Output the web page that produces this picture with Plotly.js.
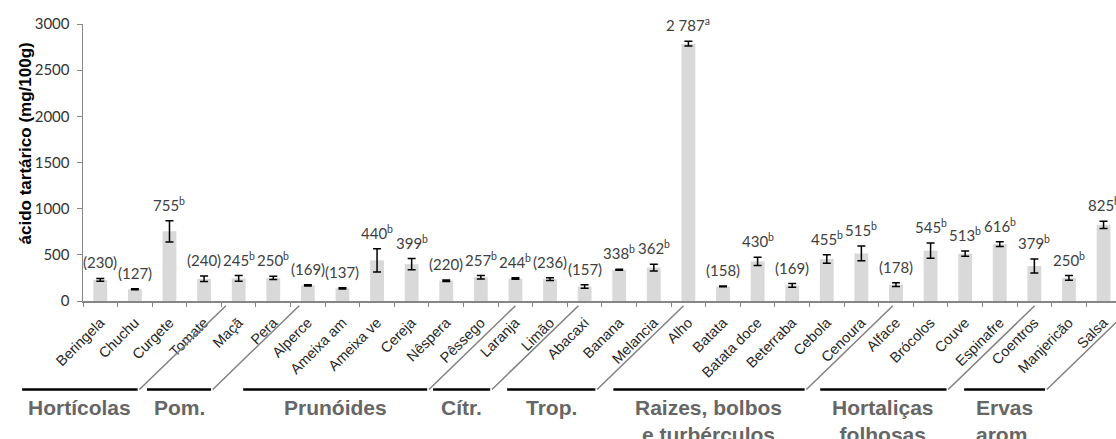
<!DOCTYPE html>
<html>
<head>
<meta charset="utf-8">
<script src="https://cdn.plot.ly/plotly-3.0.1.min.js"></script>
<style>
  html, body { margin: 0; padding: 0; background: #fff; }
  #chart { width: 1116px; height: 439px; }
</style>
</head>
<body>
<div id="chart"></div>
<script>
// ---- data ----
const categories = ['Beringela','Chuchu','Curgete','Tomate','Maçã','Pera','Alperce','Ameixa am','Ameixa ve','Cereja',
  'Nêspera','Pêssego','Laranja','Limão','Abacaxi','Banana','Melancia','Alho','Batata','Batata doce',
  'Beterraba','Cebola','Cenoura','Alface','Brócolos','Couve','Espinafre','Coentros','Manjericão','Salsa'];
const values = [230,127,755,240,245,250,169,137,440,399,
  220,257,244,236,157,338,362,2787,158,430,
  169,455,515,178,545,513,616,379,250,825];
const errors = [15,5,115,30,30,18,6,6,125,60,
  8,18,8,15,18,6,36,25,5,45,
  20,45,80,20,83,28,25,77,25,40];
const letters = ['','','b','','b','b','','','b','b',
  '','b','b','','','b','b','a','','b',
  '','b','b','','b','b','b','b','b','b'];
const groupNames = ['Hortícolas','Pom.','Prunóides','Cítr.','Trop.',
  'Raizes, bolbos<br>e turbérculos','Hortaliças<br>folhosas','Ervas<br>arom.'];

// ---- layout decoration (category units) ----
const groupLineFrom = [-2.26, 1.35, 4.13, 9.62, 11.76, 14.83, 20.81, 24.97];
const groupLineTo   = [ 1.08, 3.20, 9.45, 11.27, 14.31, 20.36, 24.46, 27.31];

const xMin = -0.5, xMax = 29.36;
const plotTop = 23.5, plotBottom = 301.3, H = 439;
const plotH = plotBottom - plotTop;
const toPaperX = u => (u - xMin) / (xMax - xMin);
const toPaperY = py => (plotBottom - py) / plotH;

function fmt(v) {
  const s = String(v);
  return v >= 1000 ? s.slice(0, s.length - 3) + ' ' + s.slice(-3) : s;
}

const trace = {
  type: 'bar',
  x: categories,
  y: values,
  width: 0.4,
  marker: { color: '#d9d9d9' },
  error_y: { type: 'data', array: errors, visible: true, color: '#000000', thickness: 1.5, width: 4 },
  hoverinfo: 'x+y'
};

const annotations = [];
categories.forEach((c, i) => {
  const t = letters[i] ? fmt(values[i]) + '<sup>' + letters[i] + '</sup>' : '(' + fmt(values[i]) + ')';
  annotations.push({
    x: i, y: values[i] + errors[i], xref: 'x', yref: 'y',
    text: t, showarrow: false, xanchor: 'center', yanchor: 'bottom', yshift: 5,
    font: { family: 'Lato, Carlito, sans-serif', size: 15, color: '#404040' }
  });
});

const shapes = [];
groupNames.forEach((g, k) => {
  const a = groupLineFrom[k], b = groupLineTo[k];
  shapes.push({ type: 'line', xref: 'paper', yref: 'paper',
    x0: toPaperX(a), x1: toPaperX(b), y0: toPaperY(390), y1: toPaperY(390),
    line: { color: '#000000', width: 2.5 } });
  shapes.push({ type: 'line', xref: 'paper', yref: 'paper',
    x0: toPaperX(b + 0.05), x1: toPaperX(b + 2.55), y0: toPaperY(390), y1: toPaperY(306),
    line: { color: '#808080', width: 1.5 } });
  annotations.push({
    x: toPaperX((a + b) / 2), y: toPaperY(395), xref: 'paper', yref: 'paper',
    text: '<b>' + g + '</b>', showarrow: false, xanchor: 'center', yanchor: 'top',
    align: 'center',
    font: { family: 'Liberation Sans, Arial, sans-serif', size: 21, color: '#666666' }
  });
});

annotations.push({
  x: toPaperX(xMin) - (82.7 - 25) / 1033.3, y: toPaperY(143), xref: 'paper', yref: 'paper',
  text: '<b>ácido tartárico (mg/100g)</b>', textangle: -90, showarrow: false,
  xanchor: 'center', yanchor: 'middle',
  font: { family: 'Liberation Sans, Arial, sans-serif', size: 17, color: '#000000' }
});

const layout = {
  width: 1116, height: 439,
  margin: { l: 82.7, r: 0, t: plotTop, b: H - plotBottom, pad: 0 },
  paper_bgcolor: '#ffffff', plot_bgcolor: '#ffffff',
  showlegend: false,
  bargap: 0.6,
  xaxis: {
    type: 'category', range: [xMin, xMax], tickangle: -45,
    tickson: 'boundaries', ticks: 'outside', ticklen: 4, tickcolor: '#868686', tickwidth: 1,
    showline: true, linecolor: '#868686', linewidth: 1.5,
    showgrid: false, zeroline: false, automargin: false,
    ticklabelstandoff: 6,
    tickfont: { family: 'Liberation Sans, Arial, sans-serif', size: 14.5, color: '#262626' }
  },
  yaxis: {
    range: [0, 3000], dtick: 500, tick0: 0,
    ticks: 'outside', ticklen: 5, tickcolor: '#868686', tickwidth: 1,
    showline: true, linecolor: '#868686', linewidth: 1.5,
    showgrid: false, zeroline: false, automargin: false,
    ticklabelstandoff: 4,
    tickfont: { family: 'Lato, Carlito, sans-serif', size: 15, color: '#333333' }
  },
  annotations: annotations,
  shapes: shapes
};

Plotly.newPlot('chart', [trace], layout, { displayModeBar: false, staticPlot: true });
</script>
</body>
</html>
